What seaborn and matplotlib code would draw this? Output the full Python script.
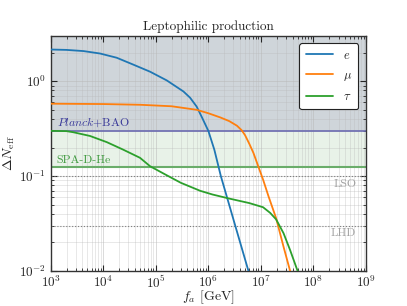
import numpy as np
import pandas as pd
import matplotlib
matplotlib.use('Agg')
import matplotlib.pyplot as plt
import seaborn as sns

# data (f_a in GeV, Delta N_eff)
fa_e = [1e3, 2e3, 4.2e3, 8.7e3, 1.8e4, 3.7e4, 7.8e4, 1.62e5, 3.36e5, 4.5e5,
        6e5, 7.5e5, 1e6, 1.3e6, 1.73e6, 3e6, 5.8e6]
dn_e = [2.16, 2.14, 2.08, 1.96, 1.77, 1.50, 1.26, 1.02, 0.78, 0.67,
        0.54, 0.42, 0.30, 0.19, 0.10, 0.035, 0.01]

fa_mu = [1e3, 1e4, 5e4, 2e5, 6e5, 1e6, 1.7e6, 2.5e6, 3.5e6, 4.3e6, 5e6, 6e6,
         7.2e6, 9e6, 1.1e7, 1.4e7, 1.95e7, 2.7e7, 3.6e7]
dn_mu = [0.58, 0.575, 0.565, 0.545, 0.50, 0.46, 0.415, 0.38, 0.34, 0.305, 0.27, 0.22,
         0.176, 0.125, 0.092, 0.061, 0.036, 0.018, 0.01]

fa_tau = [1e3, 2e3, 2.7e3, 5.6e3, 1.17e4, 2.4e4, 5e4, 7.8e4, 1.62e5, 3e5, 7e5,
          1.2e6, 2.5e6, 6e6, 1.1e7, 1.5e7, 1.95e7, 2.7e7, 3.6e7, 5e7]
dn_tau = [0.30, 0.298, 0.29, 0.265, 0.228, 0.19, 0.156, 0.127, 0.102, 0.085, 0.07,
          0.064, 0.058, 0.052, 0.047, 0.041, 0.035, 0.025, 0.0166, 0.01]

labels = ['$e$', r'$\mu$', r'$\tau$']

# bounds
planck_bao = 0.3
spa_d_he = 0.125
lso = 0.1
lhd = 0.03

df = pd.concat([
    pd.DataFrame({'fa': fa_e, 'dn': dn_e, 'lep': labels[0]}),
    pd.DataFrame({'fa': fa_mu, 'dn': dn_mu, 'lep': labels[1]}),
    pd.DataFrame({'fa': fa_tau, 'dn': dn_tau, 'lep': labels[2]}),
])

sns.set_theme(style='ticks')
plt.rcParams['font.family'] = 'serif'
plt.rcParams['font.serif'] = ['cmr10', 'DejaVu Serif']
plt.rcParams['mathtext.fontset'] = 'cm'
plt.rcParams['axes.formatter.use_mathtext'] = True
plt.rcParams['axes.unicode_minus'] = False

fig = plt.figure(figsize=(4.07, 3.06), dpi=100)
ax = fig.add_axes([0.1246, 0.1144, 0.7746, 0.7680])

# excluded / sensitivity regions
ax.axhspan(planck_bao, 3, color='slategray', alpha=0.33, lw=0, zorder=0)
ax.axhspan(spa_d_he, planck_bao, color='#2e8b2e', alpha=0.11, lw=0, zorder=0)
ax.axhline(planck_bao, color='#6b6bb0', lw=1.2, zorder=1)
ax.axhline(spa_d_he, color='#6aad6a', lw=1.5, zorder=1)
ax.axhline(lso, color='gray', lw=0.8, ls=':', zorder=1)
ax.axhline(lhd, color='gray', lw=0.8, ls=':', zorder=1)

sns.lineplot(data=df, x='fa', y='dn', hue='lep', palette=sns.color_palette('tab10', 3),
             ax=ax, lw=1.3, zorder=3)

ax.set_xscale('log')
ax.set_yscale('log')
ax.set_xlim(1e3, 1e9)
ax.set_ylim(1e-2, 3)

ax.text(1.3e3, 0.315, r'$\it{Planck}$+BAO', color='#3a3a9a', fontsize=8.5, va='bottom')
ax.text(1.3e3, 0.131, 'SPA-D-He', color='#3f9a3f', fontsize=8.5, va='bottom')
ax.text(6.5e8, 0.093, 'LSO', color='#a0a0a0', fontsize=8.5, va='top', ha='right')
ax.text(6.5e8, 0.0278, 'LHD', color='#a0a0a0', fontsize=8.5, va='top', ha='right')

ax.set_title('Leptophilic production', fontsize=9.5, pad=4)
ax.set_xlabel('$f_a$ [GeV]', fontsize=10, labelpad=-1.5)
ax.set_ylabel(r'$\Delta N_{\rm eff}$', fontsize=10, labelpad=1)

ax.xaxis.set_major_locator(matplotlib.ticker.LogLocator(base=10, numticks=10))
ax.xaxis.set_minor_locator(matplotlib.ticker.LogLocator(base=10, subs=np.arange(2, 10), numticks=20))
ax.tick_params(which='both', direction='in', top=True, right=True, labelsize=9.5)
ax.tick_params(axis='x', which='major', pad=2.5)
ax.tick_params(which='major', length=4, width=0.8)
ax.tick_params(which='minor', length=2, width=0.6)
ax.grid(which='major', color='#b8b8b8', lw=0.6, alpha=0.6)
ax.grid(which='minor', color='#b8b8b8', lw=0.5, alpha=0.45)
ax.set_axisbelow(True)
for s in ax.spines.values():
    s.set_linewidth(1.0)
    s.set_color('#333333')

leg = ax.legend(loc='upper right', fontsize=9, frameon=True, fancybox=True,
                edgecolor='#222222', framealpha=1, borderpad=0.5, labelspacing=0.6,
                handlelength=2.2, borderaxespad=0.6)
leg.get_frame().set_linewidth(0.8)
leg.set_zorder(5)

fig.savefig('out.png', dpi=100)
